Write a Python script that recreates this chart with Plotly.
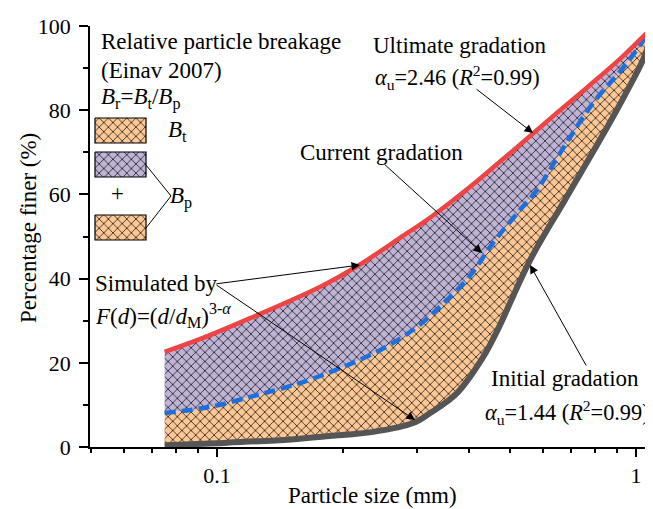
import math
import plotly.graph_objects as go

# ---------------- data ----------------
d_ultimate = [0.075, 0.091, 0.12, 0.176, 0.219, 0.27, 0.328, 0.402, 0.474, 0.567, 0.634, 0.777, 0.93, 1.09]
F_ultimate = [22.6, 25.6, 30.6, 38.0, 43.3, 49.3, 55.0, 61.8, 67.8, 74.4, 78.6, 86.0, 92.8, 99.5]

d_current = [0.075, 0.096, 0.12, 0.144, 0.179, 0.245, 0.30, 0.346, 0.402, 0.456, 0.529, 0.58, 0.659, 0.707, 0.79, 0.952, 1.09]
F_current = [8.1, 9.5, 11.9, 14.0, 17.1, 23.0, 28.5, 34.0, 40.7, 48.5, 56.3, 61.0, 69.8, 74.6, 81.7, 91.2, 99.5]

d_initial = [0.075, 0.10, 0.15, 0.186, 0.236, 0.294, 0.322, 0.374, 0.432, 0.466, 0.559, 0.677, 0.82, 0.941, 1.051, 1.09]
F_initial = [0.4, 0.9, 1.8, 2.6, 3.6, 5.7, 8.0, 12.8, 21.4, 27.5, 44.4, 58.7, 72.9, 83.6, 93.1, 99.0]

x_major = [0.1, 1]
x_major_text = ["0.1", "1"]
x_minor = [0.05, 0.06, 0.07, 0.08, 0.09, 0.2, 0.3, 0.4, 0.5, 0.6, 0.7, 0.8, 0.9]

# ---------------- styles ----------------
FONT = "Liberation Serif"
FS = 22      # tick labels
FT = 23      # annotations / titles
FA = 22.3    # alpha / R^2 lines
ORANGE = "#FDC895"
PURPLE = "#C0B4D6"
RED = "#EE4444"
BLUE = "#1E6FD9"
GRAY = "#555555"

# page pixel geometry (the page body has an 8 px margin)
PAGE_W, PAGE_H, BODY = 653, 509, 8
PX_L, PX_R, PX_T, PX_B = 90, 653, 26, 447          # plot area in page pixels
W, H = PAGE_W - BODY, PAGE_H - BODY
ML, MR, MT, MB = PX_L - BODY, PAGE_W - PX_R, PX_T - BODY, PAGE_H - PX_B
SMOOTH = 1.0


def pat(bg):
    return dict(shape="x", bgcolor=bg, fgcolor="black", fgopacity=1, size=6.5, solidity=0.2)


fig = go.Figure()

# fills (drawn first, no lines)
fig.add_trace(go.Scatter(x=d_initial, y=F_initial, mode="lines",
                         line=dict(width=0, shape="spline", smoothing=SMOOTH, color=GRAY),
                         showlegend=False, hoverinfo="skip"))
fig.add_trace(go.Scatter(x=d_current, y=F_current, mode="lines", fill="tonexty",
                         fillcolor=ORANGE, fillpattern=pat(ORANGE),
                         line=dict(width=0, shape="spline", smoothing=SMOOTH, color=BLUE),
                         showlegend=False, hoverinfo="skip"))
fig.add_trace(go.Scatter(x=d_ultimate, y=F_ultimate, mode="lines", fill="tonexty",
                         fillcolor=PURPLE, fillpattern=pat(PURPLE),
                         line=dict(width=0, shape="spline", smoothing=SMOOTH, color=RED),
                         showlegend=False, hoverinfo="skip"))

# curves on top
fig.add_trace(go.Scatter(x=d_initial, y=F_initial, mode="lines", cliponaxis=False,
                         line=dict(width=6, shape="spline", smoothing=SMOOTH, color=GRAY),
                         showlegend=False, hoverinfo="skip"))
fig.add_trace(go.Scatter(x=d_current, y=F_current, mode="lines", cliponaxis=False,
                         line=dict(width=4.5, shape="spline", smoothing=SMOOTH, color=BLUE, dash="11px,6px"),
                         showlegend=False, hoverinfo="skip"))
fig.add_trace(go.Scatter(x=d_ultimate, y=F_ultimate, mode="lines", cliponaxis=False,
                         line=dict(width=4.5, shape="spline", smoothing=SMOOTH, color=RED),
                         showlegend=False, hoverinfo="skip"))

# ---------------- legend swatches on a pixel-coordinate overlay ----------------
swatches = [
    ((95, 118, 146, 143), ORANGE),
    ((95, 152, 146, 177), PURPLE),
    ((95, 215, 146, 240), ORANGE),
]
for (x0, y0, x1, y1), c in swatches:
    fig.add_trace(go.Scatter(x=[x0, x1, x1, x0, x0], y=[y0, y0, y1, y1, y0],
                             xaxis="x2", yaxis="y2", mode="lines", fill="toself",
                             fillcolor=c, fillpattern=pat(c),
                             line=dict(color="black", width=1.2),
                             showlegend=False, hoverinfo="skip"))

xr0 = math.log10(0.04977)
xr1 = xr0 + (PX_R - PX_L) / 419.0

fig.update_layout(
    width=W, height=H,
    margin=dict(l=ML, r=MR, t=MT, b=MB, autoexpand=False),
    paper_bgcolor="white", plot_bgcolor="white",
    font=dict(family=FONT, size=FS, color="black"),
    xaxis=dict(type="log", range=[xr0, xr1], showline=True, linecolor="black", linewidth=1.5,
               ticks="outside", ticklen=8, tickwidth=1.5, tickcolor="black",
               tickvals=x_major, ticktext=x_major_text, showgrid=False, zeroline=False,
               minor=dict(tickvals=x_minor, ticks="outside", ticklen=4, tickwidth=1.5,
                          tickcolor="black", showgrid=False),
               tickfont=dict(family=FONT, size=FS)),
    yaxis=dict(range=[0, 100], showline=True, linecolor="black", linewidth=1.5,
               ticks="outside", ticklen=9, tickwidth=1.5, tickcolor="black",
               tick0=0, dtick=20, showgrid=False, zeroline=False,
               minor=dict(dtick=10, ticks="outside", ticklen=5, tickwidth=1.5,
                          tickcolor="black", showgrid=False),
               ticklabelstandoff=4,
               tickfont=dict(family=FONT, size=FS)),
    xaxis2=dict(overlaying="x", anchor="y2", range=[PX_L, PX_R], visible=False, fixedrange=True),
    yaxis2=dict(overlaying="y", anchor="x2", range=[PX_B, PX_T], visible=False, fixedrange=True),
)


def txt(x, y, s, xanchor="left", angle=0, size=FT):
    fig.add_annotation(x=x, y=y, xref="x2", yref="y2", text=s, showarrow=False,
                       xanchor=xanchor, yanchor="middle", textangle=angle,
                       font=dict(family=FONT, size=size, color="black"))


def ptxt(x, y, s, angle=0):
    # paper-referenced text for positions outside the plot area (page pixels in)
    fig.add_annotation(x=(x - PX_L) / (PX_R - PX_L), y=(PX_B - y) / (PX_B - PX_T),
                       xref="paper", yref="paper", text=s, showarrow=False,
                       xanchor="center", yanchor="middle", textangle=angle,
                       font=dict(family=FONT, size=FT, color="black"))


def arrow(x0, y0, x1, y1):
    fig.add_annotation(x=x1, y=y1, ax=x0, ay=y0, xref="x2", yref="y2", axref="x2", ayref="y2",
                       text="", showarrow=True, arrowhead=2, arrowsize=1.7, arrowwidth=1,
                       arrowcolor="black", standoff=0, startstandoff=0)


txt(99, 41, "Relative particle breakage")
txt(99, 70, "(Einav 2007)")
txt(99, 98, "<i>B</i><sub>r</sub>=<i>B</i><sub>t</sub>/<i>B</i><sub>p</sub>")
txt(166, 131, "<i>B</i><sub>t</sub>")
txt(117, 193, "+", xanchor="center")
txt(168, 197, "<i>B</i><sub>p</sub>")

fig.add_shape(type="line", xref="x2", yref="y2", x0=146, y0=165, x1=171, y1=196,
              line=dict(color="black", width=1))
fig.add_shape(type="line", xref="x2", yref="y2", x0=146, y0=228, x1=171, y1=196,
              line=dict(color="black", width=1))

txt(460, 45, "Ultimate gradation", xanchor="center")
txt(373, 77, "<i>α</i><sub>u</sub>=2.46 (<i>R</i><sup>2</sup>=0.99)", size=FA)
arrow(475, 88, 533, 133)

txt(381, 152, "Current gradation", xanchor="center")
arrow(383, 163, 482, 253)

txt(93, 283, "Simulated by")
txt(93, 315, "<i>F</i>(<i>d</i>)=(<i>d</i>/<i>d</i><sub>M</sub>)<sup>3-<i>α</i></sup>")
arrow(215, 284, 360, 265)
arrow(215, 284, 415, 420)

txt(565, 378, "Initial gradation", xanchor="center")
txt(483, 412, "<i>α</i><sub>u</sub>=1.44 (<i>R</i><sup>2</sup>=0.99)", size=FA)
arrow(587, 367, 530, 265)

ptxt(372, 495, "Particle size (mm)")
ptxt(28, 228, "Percentage finer (%)", angle=-90)

fig.write_html("out.html")
